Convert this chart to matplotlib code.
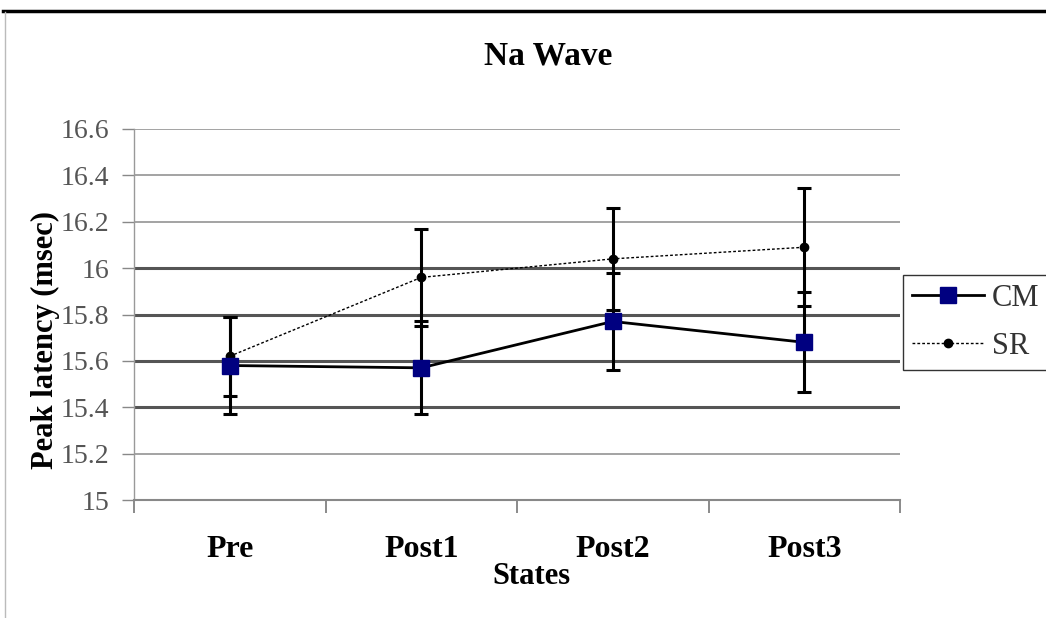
import matplotlib
matplotlib.use("Agg")
import matplotlib.pyplot as plt
from matplotlib.lines import Line2D
import numpy as np

# ---- data ----
states = ["Pre", "Post1", "Post2", "Post3"]
cm_values = [15.58, 15.57, 15.77, 15.68]
cm_errors = [0.21, 0.20, 0.21, 0.215]
sr_values = [15.62, 15.96, 16.04, 16.09]
sr_errors = [0.17, 0.21, 0.22, 0.255]
yticks = [15.0, 15.2, 15.4, 15.6, 15.8, 16.0, 16.2, 16.4, 16.6]
ytick_labels = ["15", "15.2", "15.4", "15.6", "15.8", "16", "16.2", "16.4", "16.6"]

W, H = 1046, 618
fig = plt.figure(figsize=(W / 100, H / 100), dpi=100)
serif = "Liberation Serif"

ax = fig.add_axes([134 / W, 1 - 500 / H, (900 - 134) / W, (500 - 129) / H])
x = np.arange(len(states))

# gridlines
for v in yticks[1:]:
    thick = 15.3 < v < 16.1
    ax.axhline(v, color="#555555" if thick else "#8a8a8a",
               lw=2.2 if thick else 1.1, zorder=1)

sr_style = dict(color="black", lw=1.0, ls=(0, (2, 1.5)), marker="o", ms=6,
                mfc="black", mec="black")
cm_style = dict(color="black", lw=2.0, ls="-", marker="s", ms=11,
                mfc="#000080", mec="#000080")

# SR series
ax.errorbar(x, sr_values, yerr=sr_errors, ecolor="black",
            elinewidth=2.2, capsize=5, capthick=2.2, zorder=3, **sr_style)
# CM series
ax.errorbar(x, cm_values, yerr=cm_errors, ecolor="black",
            elinewidth=2.2, capsize=5, capthick=2.2, zorder=4, **cm_style)

ax.set_xlim(-0.5, len(states) - 0.5)
ax.set_ylim(15.0, 16.6)
ax.set_yticks(yticks)
ax.set_yticklabels(ytick_labels, fontfamily=serif, fontsize=20, color="#555555")
ax.tick_params(axis="y", direction="out", length=9, width=1, color="#888888", pad=9)

ax.set_xticks(x)
ax.set_xticklabels(states, fontfamily=serif, fontsize=23, fontweight="bold", color="black")
ax.tick_params(axis="x", which="major", length=0, pad=25)
ax.set_xticks(np.arange(-0.5, len(states), 1.0), minor=True)
ax.tick_params(axis="x", which="minor", direction="out", length=9, width=1.2, color="#777777")

for s in ["top", "right"]:
    ax.spines[s].set_visible(False)
ax.spines["left"].set_color("#999999")
ax.spines["left"].set_linewidth(1.0)
ax.spines["bottom"].set_color("#888888")
ax.spines["bottom"].set_linewidth(1.5)

# legend
handles = [Line2D([], [], **cm_style), Line2D([], [], **sr_style)]
leg = fig.legend(handles, ["CM", "SR"],
                 loc="upper left", bbox_to_anchor=(903 / W, 1 - 275 / H),
                 bbox_transform=fig.transFigure, borderaxespad=0,
                 prop={"family": serif, "size": 22}, frameon=True, fancybox=False,
                 edgecolor="#333333", framealpha=1, handlelength=2.35,
                 borderpad=0.3, labelspacing=0.6, handletextpad=0.25)
leg.get_frame().set_linewidth(1.0)
for t in leg.get_texts():
    t.set_color("#333333")

# texts
fig.text(548 / W, 1 - 56 / H, "Na Wave", ha="center", va="center",
         fontfamily=serif, fontsize=24, fontweight="bold")
fig.text(45 / W, 1 - 340 / H, "Peak latency (msec)", ha="center", va="center",
         rotation=90, fontfamily=serif, fontsize=22, fontweight="bold")
fig.text(531 / W, 1 - 576 / H, "States", ha="center", va="center",
         fontfamily=serif, fontsize=22, fontweight="bold")

# frame lines
fig.add_artist(Line2D([3 / W, 1], [1 - 11 / H, 1 - 11 / H], color="black", lw=2.5,
                      transform=fig.transFigure))
fig.add_artist(Line2D([5 / W, 5 / W], [0, 1 - 12 / H], color="#bbbbbb", lw=1,
                      transform=fig.transFigure))

fig.savefig("out.png", dpi=100, facecolor="white")
